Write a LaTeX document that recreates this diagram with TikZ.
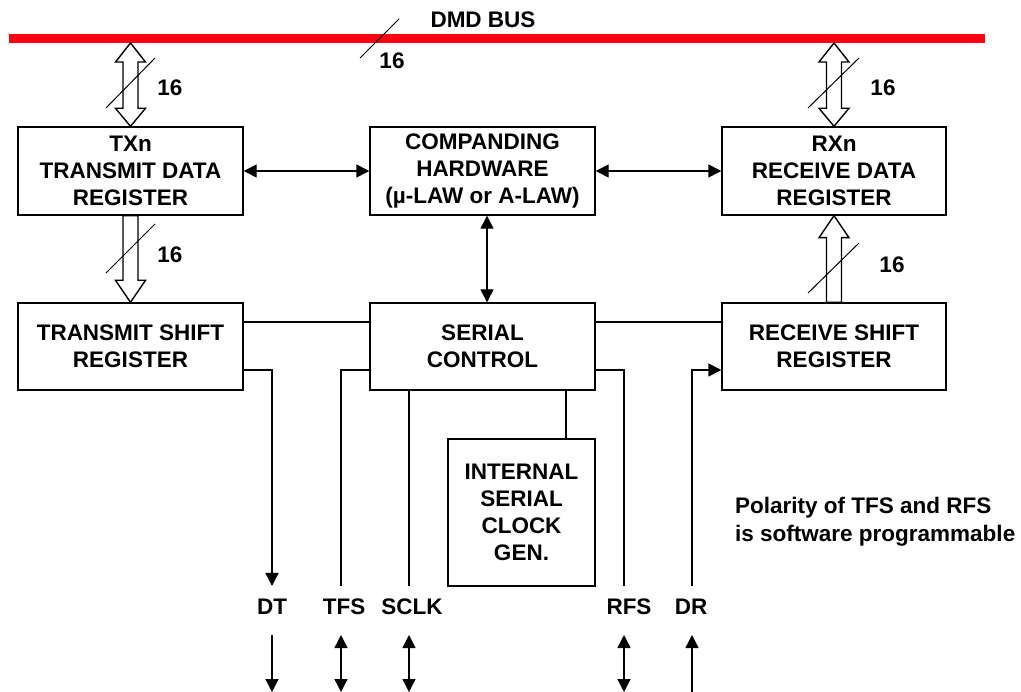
\documentclass[tikz,border=0pt]{standalone}
\usepackage{fontspec}
\setmainfont{Liberation Sans}
\usetikzlibrary{arrows.meta,calc}
\newcommand\dfont{\bfseries\fontsize{22.5}{27}\selectfont}
\newcommand\fatdbl[2]{\draw[fat] let \p1=(#1),\p2=(#2) in
  (\x1,\y1) -- (\x1+15pt,\y1-19pt) -- (\x1+7.5pt,\y1-19pt) -- (\x1+7.5pt,\y2+18pt) -- (\x1+15pt,\y2+18pt) -- (\x1,\y2)
  -- (\x1-15pt,\y2+18pt) -- (\x1-7.5pt,\y2+18pt) -- (\x1-7.5pt,\y1-19pt) -- (\x1-15pt,\y1-19pt) -- cycle;}
\newcommand\fatdown[2]{\draw[fat] let \p1=(#1),\p2=(#2) in
  (\x1-7.5pt,\y1) -- (\x1+7.5pt,\y1) -- (\x1+7.5pt,\y2+22pt) -- (\x1+15pt,\y2+22pt) -- (\x1,\y2)
  -- (\x1-15pt,\y2+22pt) -- (\x1-7.5pt,\y2+22pt) -- cycle;}
\newcommand\fatup[2]{\draw[fat] let \p1=(#1),\p2=(#2) in
  (\x1-7.5pt,\y1) -- (\x1+7.5pt,\y1) -- (\x1+7.5pt,\y2-22pt) -- (\x1+15pt,\y2-22pt) -- (\x1,\y2)
  -- (\x1-15pt,\y2-22pt) -- (\x1-7.5pt,\y2-22pt) -- cycle;}
\definecolor{busred}{RGB}{255,0,18}
\begin{document}
\begin{tikzpicture}[x=1pt,y=-1pt,
  box/.style={draw,line width=1.4pt,minimum width=225pt,minimum height=88pt,inner sep=0pt,align=center,font=\dfont},
  lbl/.style={inner sep=0pt,font=\dfont},
  wire/.style={line width=1.4pt},
  tip/.style={wire,-{Triangle[length=13pt,width=13pt]}},
  dbl/.style={wire,{Triangle[length=13pt,width=13pt]}-{Triangle[length=13pt,width=13pt]}},
  fat/.style={line width=1.4pt,fill=white,line join=miter},
  slash/.style={line width=1pt}]
\useasboundingbox (0,0) rectangle (1021,692);

% bus
\coordinate (busL) at (9,38.5);
\coordinate (busR) at (985,38.5);
\draw[busred,line width=9pt] (busL) -- (busR);
\node[lbl] (dmd) at (483,20) {DMD BUS};
\coordinate (bs1) at (360,58);
\coordinate (bs2) at (399,19);
\draw[slash] (bs1) -- (bs2);
\node[lbl] (bus16) at (392,61) {16};

% boxes
\node[box] (tx) at (130.5,171) {TXn\\TRANSMIT DATA\\REGISTER};
\node[box] (comp) at (482.5,171) {COMPANDING\\HARDWARE\\(µ-LAW or A-LAW)};
\node[box,minimum width=224pt] (rx) at (834,171) {RXn\\RECEIVE DATA\\REGISTER};
\node[box,minimum height=87pt] (ts) at (130.5,346.5) {TRANSMIT SHIFT\\REGISTER};
\node[box,minimum height=87pt] (sc) at (482.5,346.5) {SERIAL\\CONTROL};
\node[box,minimum width=224pt,minimum height=87pt] (rs) at (834,346.5) {RECEIVE SHIFT\\REGISTER};
\node[box,minimum width=147pt,minimum height=147pt] (clk) at (521.5,512.5) {INTERNAL\\SERIAL\\CLOCK\\GEN.};

% fat bus arrows
\coordinate (b1) at (130.5,43);
\coordinate (b2) at (834,43);
\fatdbl{b1}{tx.north}
\fatdbl{b2}{rx.north}
\fatdown{tx.south}{ts.north}
\fatup{rs.north}{rx.south}

\draw[slash] (106,108) -- (155,58);
\node[lbl] at (170,88) {16};
\draw[slash] (808,108) -- (859,58);
\node[lbl] at (883,88) {16};
\draw[slash] (106,273) -- (155,224);
\node[lbl] at (170,255) {16};
\draw[slash] (808,293) -- (859,243);
\node[lbl] at (892,265) {16};

% control connectors
\draw[dbl] (tx.east) -- (comp.west);
\draw[dbl] (comp.east) -- (rx.west);
\draw[dbl] ([xshift=4.5pt]comp.south) -- ([xshift=4.5pt]sc.north);
\draw[wire] (ts.east |- 0,322) -- (sc.west |- 0,322);
\draw[wire] (sc.east |- 0,322) -- (rs.west |- 0,322);

% pins
\coordinate (dtE) at (272,586);
\coordinate (tfsE) at (341,586);
\coordinate (sclkE) at (409,586);
\coordinate (rfsE) at (624,586);
\coordinate (drE) at (692,586);
\draw[tip] (ts.east |- 0,370) -| (dtE);
\draw[wire] (sc.west |- 0,370) -| (tfsE);
\draw[wire] (sc.south -| sclkE) -- (sclkE);
\draw[wire] (sc.south -| 566,0) -- (clk.north -| 566,0);
\draw[wire] (sc.east |- 0,370) -| (rfsE);
\draw[tip] (drE) |- (rs.west |- 0,370);

% pin labels
\node[lbl] (dt) at (272,607) {DT};
\node[lbl] (tfs) at (344,607) {TFS};
\node[lbl] (sclk) at (412,607) {SCLK};
\node[lbl] (rfs) at (629,607) {RFS};
\node[lbl] (dr) at (691,607) {DR};

\coordinate (dtA) at (272,635);  \coordinate (dtB) at (272,692);
\coordinate (tfsA) at (341,635); \coordinate (tfsB) at (341,692);
\coordinate (sclkA) at (409,635); \coordinate (sclkB) at (409,692);
\coordinate (rfsA) at (624,635); \coordinate (rfsB) at (624,692);
\coordinate (drA) at (692,635);  \coordinate (drB) at (692,692);
\draw[tip] (dtA) -- (dtB);
\draw[dbl] (tfsA) -- (tfsB);
\draw[dbl] (sclkA) -- (sclkB);
\draw[dbl] (rfsA) -- (rfsB);
\draw[tip] (drB) -- (drA);

\node[lbl,anchor=west,align=left,font=\bfseries\fontsize{22.5}{28}\selectfont] (note) at (735,522) {Polarity of TFS and RFS\\is software programmable};
\end{tikzpicture}
\end{document}
